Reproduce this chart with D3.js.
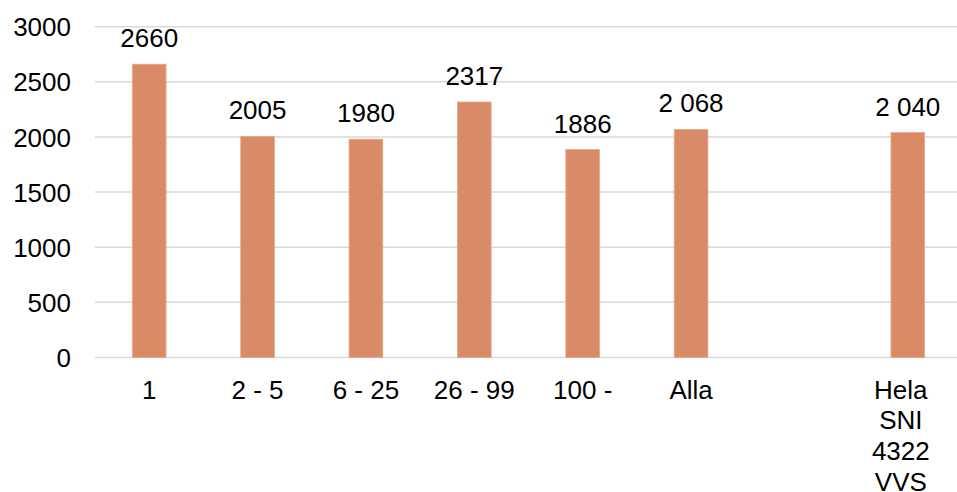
<!DOCTYPE html>
<html><head><meta charset="utf-8">
<script src="https://cdn.jsdelivr.net/npm/d3@7"></script>
<style>
html,body{margin:0;padding:0;background:#fff;}
svg{display:block;font-family:"Liberation Sans",Arial,sans-serif;}
</style></head>
<body>
<svg id="chart" width="957" height="492"></svg>
<script>
const categories = ["1", "2 - 5", "6 - 25", "26 - 99", "100 -", "Alla", "", "Hela SNI 4322 VVS"];
const values = [2660, 2005, 1980, 2317, 1886, 2068, null, 2040];
const valueLabels = ["2660", "2005", "1980", "2317", "1886", "2 068", "", "2 040"];
const yTicks = [0, 500, 1000, 1500, 2000, 2500, 3000];

const svg = d3.select("#chart");
const fs = 26;
const x = d3.scaleBand().domain(d3.range(categories.length)).range([95, 962]).paddingInner(0.69).paddingOuter(0.345);
const y = d3.scaleLinear().domain([0, 3000]).range([357.5, 26.7]);

// gridlines
svg.append("g").selectAll("line").data(yTicks).join("line")
  .attr("x1", 95).attr("x2", 962)
  .attr("y1", d => y(d)).attr("y2", d => y(d))
  .attr("stroke", "#d9d9d9").attr("stroke-width", 1.5);

// y axis labels
const yAxis = d3.axisLeft(y).tickValues(yTicks).tickSize(0).tickPadding(0).tickFormat(d3.format("d"));
const gy = svg.append("g").attr("transform", "translate(71,0)").call(yAxis);
gy.select(".domain").remove();
gy.selectAll("text").attr("font-size", fs).attr("font-family", "Liberation Sans, Arial, sans-serif").attr("fill", "#000").attr("dy", "0.35em");

// bars
const idx = d3.range(categories.length).filter(i => values[i] != null);
const bw = 33.7;
svg.append("g").selectAll("rect").data(idx).join("rect")
  .attr("x", i => x(i) + x.bandwidth() / 2 - bw / 2)
  .attr("width", bw)
  .attr("y", i => y(values[i]))
  .attr("height", i => y(0) - y(values[i]))
  .attr("fill", "#d98a66")
  .attr("stroke", "#e8a88a").attr("stroke-width", 0.8);

// value labels
svg.append("g").selectAll("text").data(idx).join("text")
  .attr("x", i => x(i) + x.bandwidth() / 2)
  .attr("y", i => y(values[i]) - 17)
  .attr("text-anchor", "middle")
  .attr("font-size", fs).attr("fill", "#000")
  .text(i => valueLabels[i]);

// category labels
const gx = svg.append("g");
categories.forEach((c, i) => {
  if (!c) return;
  const words = c === "Hela SNI 4322 VVS" ? c.split(" ") : [c];
  const t = gx.append("text")
    .attr("text-anchor", "middle")
    .attr("font-size", fs).attr("fill", "#000")
    .attr("transform", `translate(${x(i) + x.bandwidth() / 2 + (words.length > 1 ? -7 : 0)},398.5)`);
  words.forEach((w, k) => t.append("tspan").attr("x", 0).attr("y", k * 30.8).text(w));
});
</script>
</body></html>
